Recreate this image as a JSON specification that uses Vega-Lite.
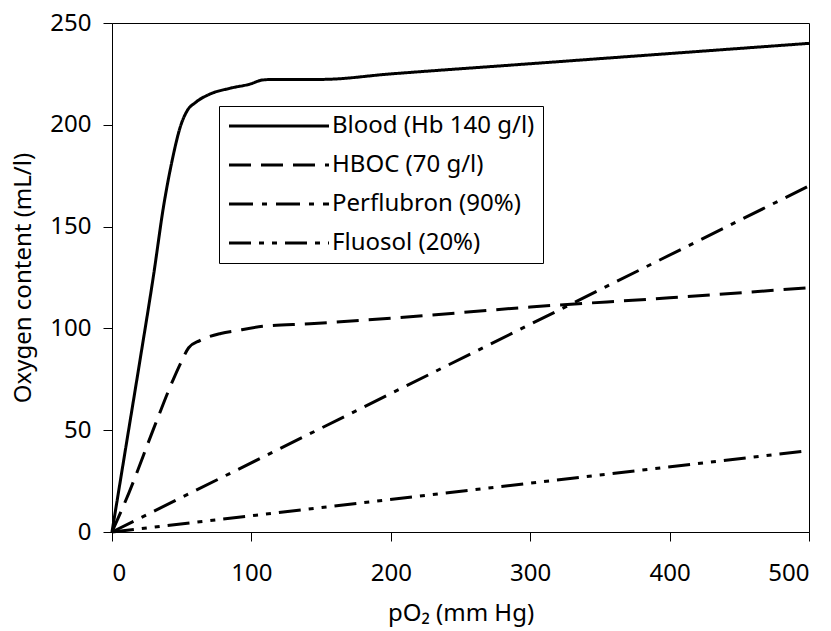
{
  "$schema": "https://vega.github.io/schema/vega-lite/v6.json",
  "width": 697,
  "height": 509,
  "autosize": "none",
  "padding": {"left": 112, "top": 23, "right": 22, "bottom": 99},
  "background": "white",
  "config": {
    "font": "Noto Sans",
    "view": {"stroke": "black", "strokeWidth": 1},
    "axis": {
      "grid": false,
      "domainColor": "black",
      "tickColor": "black",
      "tickSize": 9,
      "labelColor": "black",
      "titleColor": "black",
      "labelFont": "Noto Sans",
      "titleFont": "Noto Sans",
      "labelFontSize": 24,
      "titleFontSize": 24,
      "titleFontWeight": "normal"
    },
    "legend": {
      "labelFont": "Noto Sans",
      "labelFontSize": 24,
      "labelColor": "black",
      "labelLimit": 0
    }
  },
  "data": {
    "values": [
      {"series": "Blood (Hb 140 g/l)", "pO2": 0, "content": 0},
      {"series": "Blood (Hb 140 g/l)", "pO2": 10, "content": 42},
      {"series": "Blood (Hb 140 g/l)", "pO2": 20, "content": 84},
      {"series": "Blood (Hb 140 g/l)", "pO2": 30, "content": 127},
      {"series": "Blood (Hb 140 g/l)", "pO2": 37, "content": 160},
      {"series": "Blood (Hb 140 g/l)", "pO2": 43, "content": 182},
      {"series": "Blood (Hb 140 g/l)", "pO2": 49, "content": 199},
      {"series": "Blood (Hb 140 g/l)", "pO2": 54, "content": 207},
      {"series": "Blood (Hb 140 g/l)", "pO2": 60, "content": 211},
      {"series": "Blood (Hb 140 g/l)", "pO2": 70, "content": 215},
      {"series": "Blood (Hb 140 g/l)", "pO2": 85, "content": 218},
      {"series": "Blood (Hb 140 g/l)", "pO2": 99, "content": 220},
      {"series": "Blood (Hb 140 g/l)", "pO2": 108, "content": 222},
      {"series": "Blood (Hb 140 g/l)", "pO2": 116, "content": 222.3},
      {"series": "Blood (Hb 140 g/l)", "pO2": 150, "content": 222.3},
      {"series": "Blood (Hb 140 g/l)", "pO2": 200, "content": 225},
      {"series": "Blood (Hb 140 g/l)", "pO2": 300, "content": 230},
      {"series": "Blood (Hb 140 g/l)", "pO2": 400, "content": 235},
      {"series": "Blood (Hb 140 g/l)", "pO2": 500, "content": 240},
      {"series": "HBOC (70 g/l)", "pO2": 0, "content": 0},
      {"series": "HBOC (70 g/l)", "pO2": 12, "content": 19},
      {"series": "HBOC (70 g/l)", "pO2": 30, "content": 51},
      {"series": "HBOC (70 g/l)", "pO2": 44, "content": 75},
      {"series": "HBOC (70 g/l)", "pO2": 50, "content": 84},
      {"series": "HBOC (70 g/l)", "pO2": 55, "content": 90.5},
      {"series": "HBOC (70 g/l)", "pO2": 63, "content": 94},
      {"series": "HBOC (70 g/l)", "pO2": 78, "content": 97.5},
      {"series": "HBOC (70 g/l)", "pO2": 90, "content": 99},
      {"series": "HBOC (70 g/l)", "pO2": 108, "content": 101},
      {"series": "HBOC (70 g/l)", "pO2": 142, "content": 102.3},
      {"series": "HBOC (70 g/l)", "pO2": 200, "content": 105},
      {"series": "HBOC (70 g/l)", "pO2": 300, "content": 110.5},
      {"series": "HBOC (70 g/l)", "pO2": 400, "content": 115},
      {"series": "HBOC (70 g/l)", "pO2": 500, "content": 120},
      {"series": "Perflubron (90%)", "pO2": 0, "content": 0},
      {"series": "Perflubron (90%)", "pO2": 500, "content": 170},
      {"series": "Fluosol (20%)", "pO2": 0, "content": 0},
      {"series": "Fluosol (20%)", "pO2": 500, "content": 40}
    ]
  },
  "mark": {"type": "line", "strokeWidth": 3, "color": "black", "interpolate": "monotone", "strokeCap": "butt"},
  "encoding": {
    "x": {
      "field": "pO2", "type": "quantitative",
      "scale": {"domain": [0, 500], "nice": false, "zero": false},
      "axis": {"values": [0, 100, 200, 300, 400, 500], "title": "pO₂ (mm Hg)", "labelPadding": 20, "titlePadding": 16}
    },
    "y": {
      "field": "content", "type": "quantitative",
      "scale": {"domain": [0, 250], "nice": false},
      "axis": {"values": [0, 50, 100, 150, 200, 250], "title": "Oxygen content (mL/l)", "labelPadding": 12, "titlePadding": 14}
    },
    "strokeDash": {
      "field": "series", "type": "nominal",
      "scale": {
        "domain": ["Blood (Hb 140 g/l)", "HBOC (70 g/l)", "Perflubron (90%)", "Fluosol (20%)"],
        "range": [[1, 0], [22, 10], [24, 9, 5, 9], [22, 8, 5, 8, 5, 8]]
      },
      "legend": {
        "title": null,
        "orient": "none",
        "legendX": 107,
        "legendY": 83,
        "strokeColor": "black",
        "fillColor": "white",
        "padding": 8,
        "symbolType": "M-1,0H9",
        "symbolSize": 400,
        "symbolStrokeWidth": 3,
        "symbolStrokeColor": "black",
        "symbolFillColor": "transparent",
        "labelOffset": 81,
        "labelLimit": 0,
        "rowPadding": 15
      }
    }
  }
}
